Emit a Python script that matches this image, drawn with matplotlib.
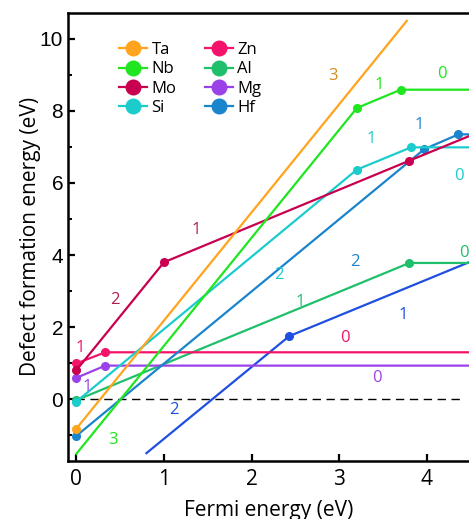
import numpy as np
import matplotlib
matplotlib.use('Agg')
import matplotlib.pyplot as plt
from matplotlib.lines import Line2D
from matplotlib.ticker import MultipleLocator

plt.rcParams['font.family'] = ['Open Sans', 'DejaVu Sans']

# formation energy vs Fermi level, kinks where the charge state changes
ta_x = [0, 3.77]
ta_y = [-0.82, 10.5]
nb_x = [0, 3.2, 3.7, 4.5]
nb_y = [-1.52, 8.08, 8.59, 8.59]
mo_x = [0, 1.0, 3.8, 4.5]
mo_y = [0.8, 3.8, 6.62, 7.32]
si_x = [0, 3.2, 3.82, 4.5]
si_y = [-0.07, 6.37, 6.99, 6.99]
zn_x = [0, 0.33, 4.5]
zn_y = [0.99, 1.30, 1.30]
al_x = [0, 3.8, 4.5]
al_y = [-0.03, 3.78, 3.78]
mg_x = [0, 0.33, 4.5]
mg_y = [0.59, 0.93, 0.93]
hf_x = [0, 3.97, 4.36, 4.5]
hf_y = [-1.02, 6.94, 7.35, 7.35]
x2_x = [0.8, 2.43, 4.5]
x2_y = [-1.5, 1.75, 3.82]

names = ['Ta', 'Nb', 'Mo', 'Si', 'Zn', 'Al', 'Mg', 'Hf']
colors = {'Ta': '#ffa41c', 'Nb': '#1fe61f', 'Mo': '#c8004f', 'Si': '#1ccccc',
          'Zn': '#f5126a', 'Al': '#20bf6b', 'Mg': '#9a42e8', 'Hf': '#1a84cc',
          'x2': '#1f4fe0'}
label_colors = dict(colors)
label_colors['Ta'] = '#d48a1c'
label_colors['Mo'] = '#b0204f'

# (x, y, marker indices)
series = {
    'Ta': (ta_x, ta_y, [0]),
    'Nb': (nb_x, nb_y, [1, 2]),
    'Mo': (mo_x, mo_y, [0, 1, 2]),
    'Si': (si_x, si_y, [0, 1, 2]),
    'Zn': (zn_x, zn_y, [0, 1]),
    'Al': (al_x, al_y, [0, 1]),
    'Mg': (mg_x, mg_y, [0, 1]),
    'Hf': (hf_x, hf_y, [0, 1, 2]),
    'x2': (x2_x, x2_y, [1]),
}

# charge-state labels: (series, text, x, y)
charge_labels = [
    ('Ta', '3', 2.93, 8.98),
    ('Nb', '3', 0.42, -1.14), ('Nb', '1', 3.45, 8.72), ('Nb', '0', 4.17, 9.03),
    ('Mo', '2', 0.44, 2.76), ('Mo', '1', 1.37, 4.69),
    ('Zn', '1', 0.05, 1.41), ('Zn', '0', 3.06, 1.69),
    ('Si', '2', 2.31, 3.45), ('Si', '1', 3.36, 7.23), ('Si', '0', 4.37, 6.19),
    ('Al', '1', 2.55, 2.71), ('Al', '0', 4.42, 4.06),
    ('Mg', '1', 0.12, 0.34), ('Mg', '0', 3.43, 0.58),
    ('Hf', '2', 3.18, 3.82), ('Hf', '1', 3.91, 7.60),
    ('x2', '2', 1.11, -0.31), ('x2', '1', 3.73, 2.34),
]

fig = plt.figure(figsize=(4.69, 5.19), dpi=100)
ax = fig.add_axes([0.145, 0.1123, 0.855, 0.8627])

ax.plot([0, 4.38], [0, 0], color='black', lw=1.0, ls=(0, (6, 4)), zorder=1)

for key in ['x2', 'Al', 'Mg', 'Zn', 'Hf', 'Si', 'Mo', 'Ta', 'Nb']:
    x, y, marks = series[key]
    ax.plot(x, y, color=colors[key], lw=1.6, marker='o', ms=5.5,
            markevery=marks, zorder=3)

for key, txt, x, y in charge_labels:
    ax.text(x, y, txt, color=label_colors[key], fontsize=12,
            ha='center', va='center', zorder=4)

handles = [Line2D([0], [0], color=colors[n], lw=1.6, marker='o', ms=10.5)
           for n in names]
ax.legend(handles, names, ncol=2, loc='upper left', bbox_to_anchor=(0.127, 0.935),
          frameon=False, prop={'size': 12}, handlelength=1.7, handletextpad=0.25,
          columnspacing=1.7, labelspacing=0.2, borderpad=0, borderaxespad=0)

ax.set_xlim(-0.095, 4.48)
ax.set_ylim(-1.71, 10.72)
ax.set_xticks([0, 1, 2, 3, 4])
ax.yaxis.set_major_locator(MultipleLocator(2))
ax.yaxis.set_minor_locator(MultipleLocator(1))
ax.tick_params(direction='in', which='major', length=5, width=1.6,
               labelsize=15, top=False, right=False)
ax.tick_params(direction='in', which='minor', length=3, width=1.4,
               top=False, right=False)
ax.tick_params(axis='x', pad=6)
for lab in ax.get_yticklabels():
    lab.set_fontfamily('Liberation Sans')
for s in ['left', 'bottom', 'top']:
    ax.spines[s].set_linewidth(1.8)
ax.spines['right'].set_visible(False)

ax.set_xlabel('Fermi energy (eV)', fontsize=15)
ax.set_ylabel('Defect formation energy (eV)', fontsize=15)
ax.xaxis.set_label_coords(0.5, -0.088)
ax.yaxis.set_label_coords(-0.068, 0.5)

fig.savefig('out.png', dpi=100)
